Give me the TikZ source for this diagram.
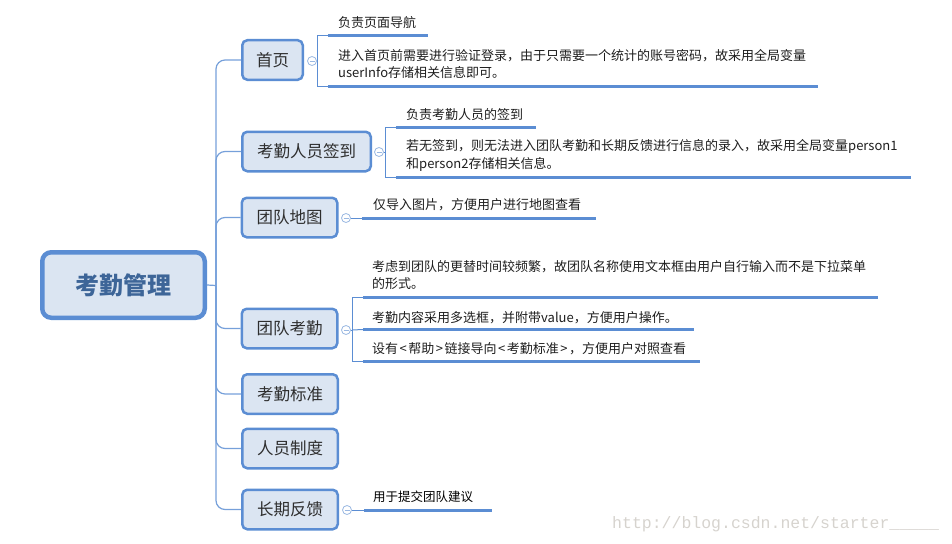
\documentclass[tikz,border=0pt]{standalone}
\usepackage{fontspec}
\setmainfont{Noto Sans CJK SC}
\newfontfamily\wmfont{Liberation Mono}
\definecolor{boxfill}{HTML}{DBE5F2}
\definecolor{boxline}{HTML}{5B8DD3}
\definecolor{lineblue}{HTML}{5B8DD3}
\definecolor{trunkblue}{HTML}{76A0DA}
\definecolor{circblue}{HTML}{9AB8E2}
\definecolor{roottext}{HTML}{3D6598}
\definecolor{branchtext}{HTML}{2E2E2E}
\definecolor{leaftext}{HTML}{1E1E1E}
\definecolor{wmgray}{HTML}{D6D3CE}
\newcommand{\brsp}{\hspace{1.5pt}}
\begin{document}
\begin{tikzpicture}[x=1pt,y=-1pt,
  rootbox/.style={draw=boxline, line width=4.5pt, fill=boxfill, rounded corners=9pt,
    minimum width=162.5pt, minimum height=65.5pt, inner sep=0pt,
    font=\fontsize{24}{28}\selectfont\bfseries, text=roottext},
  branchbox/.style={draw=boxline, line width=2.5pt, fill=boxfill, rounded corners=5pt,
    minimum height=39.5pt, inner sep=0pt,
    font=\fontsize{16.5}{20}\selectfont, text=branchtext},
  leaf/.style={anchor=west, inner sep=0pt, align=left,
    font=\fontsize{13}{17.6}\selectfont, text=leaftext},
  uline/.style={draw=lineblue, line width=3pt},
  thinline/.style={draw=lineblue, line width=1pt},
  trunkline/.style={draw=trunkblue, line width=1.2pt, rounded corners=9pt},
  collapse/.style={circle, draw=circblue, fill=white, line width=0.8pt,
    minimum size=9pt, inner sep=0pt,
    path picture={\draw[circblue, line width=0.8pt]
      ([xshift=2pt]path picture bounding box.west) --
      ([xshift=-2pt]path picture bounding box.east);}}
]
\useasboundingbox (0,0) rectangle (952,543);

% root and trunk
\node[rootbox] (root) at (123.5,285) {考勤管理};
\coordinate (trunk) at (216,285.5);
\draw[trunkline] (root.east) -- (trunk);

% branches
\node[branchbox, minimum width=60.5pt]  (b1) at (272.5,60)   {首页};
\node[branchbox, minimum width=128.5pt] (b2) at (306.5,151.5) {考勤人员签到};
\node[branchbox, minimum width=95.5pt]  (b3) at (289.5,217.5) {团队地图};
\node[branchbox, minimum width=95.5pt]  (b4) at (289.5,328.5) {团队考勤};
\node[branchbox, minimum width=95.5pt]  (b5) at (290,394)     {考勤标准};
\node[branchbox, minimum width=95.5pt]  (b6) at (290,448.5)   {人员制度};
\node[branchbox, minimum width=95.5pt]  (b7) at (290,509.5)   {长期反馈};

\foreach \b in {b1,b2,b3,b4,b5,b6,b7}
  \draw[trunkline] (trunk) |- (\b.west);

% collapse markers
\node[collapse] (c1) at (312,61) {};
\node[collapse] (c2) at (379,152) {};
\node[collapse] (c3) at (346,218) {};
\node[collapse] (c4) at (346,330) {};
\node[collapse] (c7) at (347,510) {};

% ---- branch 1: 首页
\node[leaf] (t11) at (338,23) {负责页面导航};
\node[leaf] (t12) at (338,64) {进入首页前需要进行验证登录，由于只需要一个统计的账号密码，故采用全局变量\\userInfo存储相关信息即可。};
\coordinate (u11a) at (328,35.5); \coordinate (u11b) at (428,35.5);
\coordinate (u12a) at (328,86.5); \coordinate (u12b) at (818,86.5);
\coordinate (k1) at (317,61);
\draw[uline] (u11a) -- (u11b);
\draw[uline] (u12a) -- (u12b);
\draw[thinline] (c1.east) -- (k1);
\draw[thinline] (u11a) -| (k1);
\draw[thinline] (u12a) -| (k1);

% ---- branch 2: 考勤人员签到
\node[leaf] (t21) at (406,115) {负责考勤人员的签到};
\node[leaf] (t22) at (406,155.5) {若无签到，则无法进入团队考勤和长期反馈进行信息的录入，故采用全局变量person1\\和person2存储相关信息。};
\coordinate (u21a) at (396,127.3); \coordinate (u21b) at (536,127.3);
\coordinate (u22a) at (396,177); \coordinate (u22b) at (911,177);
\coordinate (k2) at (385,152);
\draw[uline] (u21a) -- (u21b);
\draw[uline] (u22a) -- (u22b);
\draw[thinline] (c2.east) -- (k2);
\draw[thinline] (u21a) -| (k2);
\draw[thinline] (u22a) -| (k2);

% ---- branch 3: 团队地图
\node[leaf] (t31) at (373,205) {仅导入图片，方便用户进行地图查看};
\coordinate (u31a) at (362,218); \coordinate (u31b) at (596,218);
\draw[uline] (u31a) -- (u31b);
\draw[thinline] (c3.east) -- (u31a);

% ---- branch 4: 团队考勤
\node[leaf] (t41) at (372,275) {考虑到团队的更替时间较频繁，故团队名称使用文本框由用户自行输入而不是下拉菜单\\的形式。};
\node[leaf] (t42) at (372,318) {考勤内容采用多选框，并附带value，方便用户操作。};
\node[leaf] (t43) at (372,349) {设有{\brsp}<{\brsp}帮助{\brsp}>{\brsp}链接导向{\brsp}<{\brsp}考勤标准{\brsp}>{\brsp}，方便用户对照查看};
\coordinate (u41a) at (363,297.5); \coordinate (u41b) at (878,297.5);
\coordinate (u42a) at (363,329.5); \coordinate (u42b) at (694,329.5);
\coordinate (u43a) at (363,361);   \coordinate (u43b) at (700,361);
\coordinate (k4) at (352,330);
\draw[uline] (u41a) -- (u41b);
\draw[uline] (u42a) -- (u42b);
\draw[uline] (u43a) -- (u43b);
\draw[thinline] (c4.east) -- (k4);
\draw[thinline] (u41a) -| (k4);
\draw[thinline] (u42a) -- (k4);
\draw[thinline] (u43a) -| (k4);

% ---- branch 7: 长期反馈
\node[leaf, font=\fontsize{12.5}{15}\selectfont, text=black] (t71) at (373,497) {用于提交团队建议};
\coordinate (u71a) at (364,510); \coordinate (u71b) at (492,510);
\draw[uline] (u71a) -- (u71b);
\draw[thinline] (c7.east) -- (u71a);

% watermark
\node[anchor=base west, inner sep=0pt, text=wmgray,
  font=\wmfont\fontsize{16.5}{18}\selectfont] (wm) at (612,528)
  {http://blog.csdn.net/starter\_\_\_\_\_};
\end{tikzpicture}
\end{document}
